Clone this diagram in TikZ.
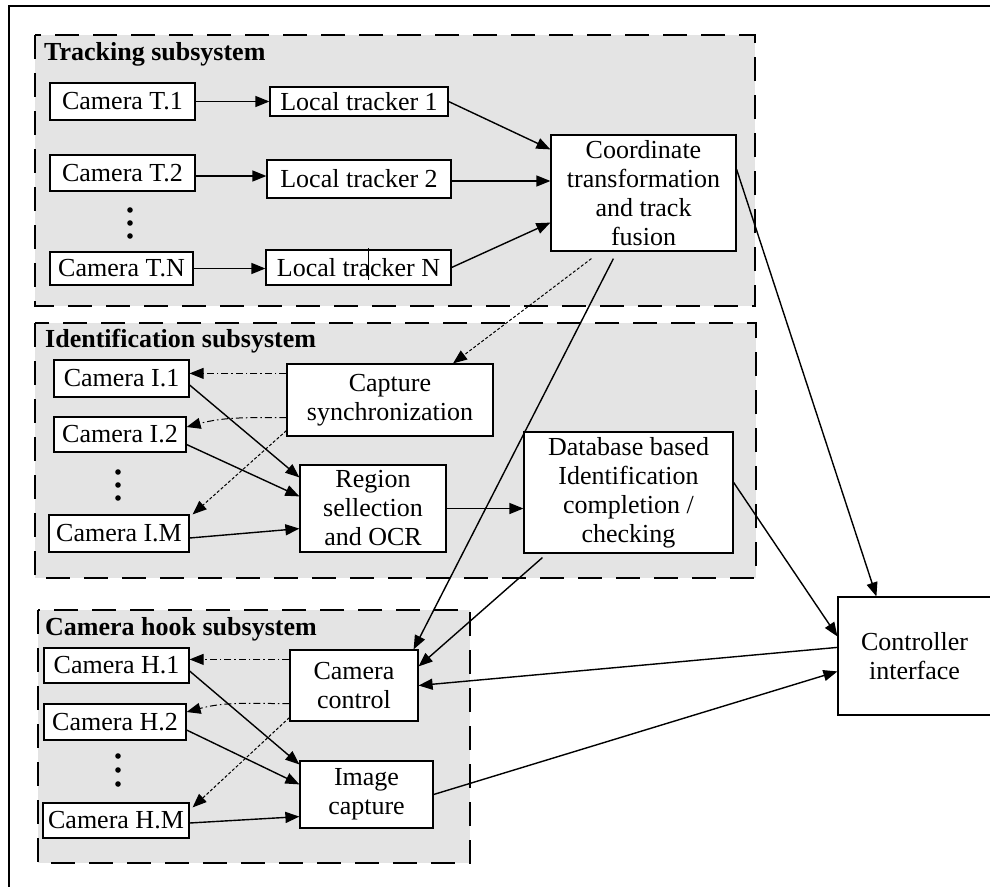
\documentclass[tikz,border=0pt]{standalone}
\usepackage{fontspec}
\setmainfont{Liberation Serif}
\usetikzlibrary{arrows.meta,calc}

\definecolor{panelgray}{HTML}{E4E4E4}

\tikzset{
  box/.style={draw, fill=white, line width=1.2pt, inner sep=0pt, align=center,
    font=\fontsize{26pt}{29pt}\selectfont},
  panel/.style={fill=panelgray, draw, line width=1.4pt, dash pattern=on 24pt off 14pt},
  paneltitle/.style={anchor=base west, inner sep=0pt,
    font=\fontsize{26pt}{28pt}\selectfont\bfseries},
  flow/.style={line width=1.4pt, -{Triangle[length=14pt,width=11pt]}},
  sync/.style={line width=1pt, dash pattern=on 7pt off 3pt on 1.5pt off 3pt,
    -{Triangle[length=14pt,width=11pt]}},
  syncfine/.style={line width=1pt, dash pattern=on 3pt off 2pt,
    -{Triangle[length=14pt,width=11pt]}},
  dot/.style={fill=black}
}

\begin{document}
\begin{tikzpicture}[x=1pt, y=-1pt]
\clip (0,0) rectangle (990,886);
\useasboundingbox (0,0) rectangle (990,886);

% outer frame (runs past the right and bottom edges)
\draw[line width=1.6pt] (9,1000) -- (9,6) -- (1100,6);

% subsystem panels
\draw[panel] (35,35) rectangle (755,306);
\draw[panel] (35,323) rectangle (756,578);
\draw[panel] (38,610) rectangle (470,863);

\node[paneltitle] (ttrack) at (44,60) {Tracking subsystem};
\node[paneltitle] (tident) at (45,347) {Identification subsystem};
\node[paneltitle] (thook) at (45,635) {Camera hook subsystem};

% tracking subsystem
\node[box, minimum width=145pt, minimum height=37pt] (T1) at (122.5,101.5) {Camera T.1};
\node[box, minimum width=145pt, minimum height=36pt] (T2) at (122.5,173) {Camera T.2};
\node[box, minimum width=143pt, minimum height=33pt] (TN) at (121.5,268.5) {Camera T.N};
\node[box, minimum width=178pt, minimum height=29pt] (LT1) at (359,101.5) {Local tracker 1};
\node[box, minimum width=184pt, minimum height=38pt] (LT2) at (359,179) {Local tracker 2};
\node[box, minimum width=185pt, minimum height=35pt] (LTN) at (358.5,267.5) {Local tracker N};
\draw[line width=0.8pt] (368,248) -- (368,280);
\node[box, minimum width=185pt, minimum height=116pt] (Coord) at (643.5,193)
  {Coordinate\\transformation\\and track\\fusion};

\fill[dot] (130,210) circle (2.8pt) (130,223) circle (2.8pt) (130,236) circle (2.8pt);

% identification subsystem
\node[box, minimum width=135pt, minimum height=37pt] (I1) at (121.5,378.5) {Camera I.1};
\node[box, minimum width=132pt, minimum height=35pt] (I2) at (120,434.5) {Camera I.2};
\node[box, minimum width=140pt, minimum height=37pt] (IM) at (119,533.5) {Camera I.M};
\node[box, minimum width=206pt, minimum height=72pt] (Sync) at (390,400)
  {Capture\\synchronization};
\node[box, minimum width=146pt, minimum height=87pt] (Region) at (373,508.5)
  {Region\\sellection\\and OCR};
\node[box, minimum width=209pt, minimum height=121pt] (DB) at (628.5,492.5)
  {Database based\\Identification\\completion /\\checking};

\fill[dot] (118,472) circle (2.8pt) (118,485) circle (2.8pt) (118,498) circle (2.8pt);

% camera hook subsystem
\node[box, minimum width=145pt, minimum height=35pt] (H1) at (116.5,665.5) {Camera H.1};
\node[box, minimum width=142pt, minimum height=36pt] (H2) at (115,722) {Camera H.2};
\node[box, minimum width=146pt, minimum height=35pt] (HM) at (116,820.5) {Camera H.M};
\node[box, minimum width=128pt, minimum height=71pt] (CamCtl) at (354,685.5)
  {Camera\\control};
\node[box, minimum width=133pt, minimum height=67pt] (ImgCap) at (366.5,794.5)
  {Image\\capture};

\fill[dot] (118,756) circle (2.8pt) (118,770) circle (2.8pt) (118,784) circle (2.8pt);

% controller
\node[box, minimum width=153pt, minimum height=118pt] (Ctrl) at (914.5,656)
  {Controller\\interface};

% tracking connectors
\draw[flow] (T1.east) -- (LT1.west);
\draw[flow] ([yshift=-3pt]T2.east) -- ([yshift=-3pt]T2.east -| LT2.west);
\draw[flow] (TN.east) -- (TN.east -| LTN.west);
\draw[flow] (LT1.east) -- ([yshift=-15pt]Coord.north west);
\draw[flow] ([yshift=-2pt]LT2.east) -- ([yshift=-2pt]LT2.east -| Coord.west);
\draw[flow] (LTN.east) -- ([yshift=29pt]Coord.south west);

% coordinate fusion outputs
\draw[syncfine] ([xshift=41pt,yshift=-7pt]Coord.south west) -- ([xshift=63pt]Sync.north);
\draw[flow] ([xshift=63pt,yshift=-7pt]Coord.south west) -- ([xshift=-5pt]CamCtl.north east);
\draw[flow] ([yshift=-35pt]Coord.north east) -- ([xshift=39pt]Ctrl.north west);

% identification connectors
\draw[sync] ([yshift=-10pt]Sync.north west) -- ([yshift=-10pt]Sync.north west -| I1.east);
\draw[sync] ([yshift=19pt]Sync.south west) to[out=180,in=15] ([yshift=7.5pt]I2.east);
\draw[syncfine] ([yshift=6pt]Sync.south west) -- ([xshift=3pt]IM.north east);
\draw[flow] ([yshift=-6.5pt]I1.east) -- ([yshift=-13pt]Region.north west);
\draw[flow] ([yshift=-10pt]I2.east) -- ([yshift=-32pt]Region.north west);
\draw[flow] ([yshift=-4.5pt]IM.east) -- ([yshift=24pt]Region.south west);
\draw[flow] (Region.east) -- (Region.east -| DB.west);
\draw[flow] ([xshift=19pt,yshift=-4pt]DB.south west) -- ([yshift=-17pt]CamCtl.north east);
\draw[flow] ([yshift=-51pt]DB.north east) -- ([yshift=-40pt]Ctrl.north west);

% camera hook connectors
\draw[flow] ([yshift=-51pt]Ctrl.north west) -- (CamCtl.east);
\draw[flow] (ImgCap.east) -- ([yshift=-75pt]Ctrl.north west);
\draw[sync] ([yshift=-10pt]CamCtl.north west) -- ([yshift=-10pt]CamCtl.north west -| H1.east);
\draw[sync] ([yshift=18pt]CamCtl.south west) to[out=180,in=15] ([yshift=10pt]H2.east);
\draw[syncfine] ([yshift=4pt]CamCtl.south west) -- ([xshift=3pt,yshift=-5pt]HM.north east);
\draw[flow] ([yshift=-5.5pt]H1.east) -- ([yshift=-4pt]ImgCap.north west);
\draw[flow] ([yshift=-8pt]H2.east) -- ([yshift=-24pt]ImgCap.north west);
\draw[flow] ([yshift=-2.5pt]HM.east) -- ([yshift=12pt]ImgCap.south west);
\end{tikzpicture}
\end{document}
